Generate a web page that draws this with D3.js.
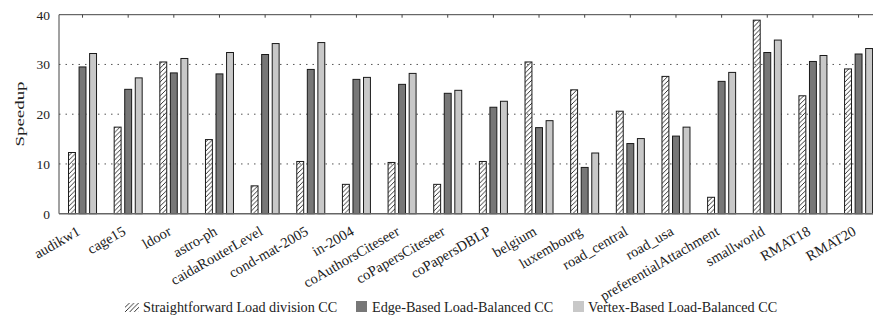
<!DOCTYPE html>
<html>
<head>
<meta charset="utf-8">
<script src="https://cdn.jsdelivr.net/npm/d3@7"></script>
<style>
  html, body { margin: 0; padding: 0; background: #fff; }
  svg { display: block; }
  svg text { font-family: "Liberation Serif", "Times New Roman", serif; fill: #222; }
</style>
</head>
<body>
<script>
// Speedup of three connected-components strategies over a set of graphs
const categories = [
  "audikw1", "cage15", "ldoor", "astro-ph", "caidaRouterLevel", "cond-mat-2005",
  "in-2004", "coAuthorsCiteseer", "coPapersCiteseer", "coPapersDBLP", "belgium",
  "luxembourg", "road_central", "road_usa", "preferentialAttachment", "smallworld",
  "RMAT18", "RMAT20"
];
const straightforward = [12.3, 17.4, 30.5, 14.9, 5.6, 10.5, 5.9, 10.3, 5.9, 10.5, 30.5, 24.9, 20.6, 27.6, 3.3, 38.9, 23.7, 29.1];
const edgeBased       = [29.5, 25.0, 28.3, 28.1, 32.0, 29.0, 27.0, 26.0, 24.2, 21.4, 17.3, 9.3, 14.1, 15.6, 26.6, 32.4, 30.6, 32.1];
const vertexBased     = [32.2, 27.3, 31.2, 32.4, 34.2, 34.4, 27.4, 28.2, 24.8, 22.6, 18.7, 12.2, 15.1, 17.4, 28.4, 34.9, 31.8, 33.2];
const seriesNames = [
  "Straightforward Load division CC",
  "Edge-Based Load-Balanced CC",
  "Vertex-Based Load-Balanced CC"
];
const yTicks = [0, 10, 20, 30, 40];

const W = 873, H = 322;
const plot = { left: 59, top: 14.7, bottom: 213.7, right: 881.4 };
const FONT = '"Liberation Serif", "Times New Roman", serif';

const svg = d3.select("body").append("svg").attr("width", W).attr("height", H);

// diagonal hatch for the first series
const defs = svg.append("defs");
const hatch = defs.append("pattern")
  .attr("id", "hatch").attr("patternUnits", "userSpaceOnUse")
  .attr("width", 4.6).attr("height", 4.6);
hatch.append("path")
  .attr("d", "M-1.15,1.15 L1.15,-1.15 M0,4.6 L4.6,0 M3.45,5.75 L5.75,3.45")
  .attr("stroke", "#111").attr("stroke-width", 0.85).attr("fill", "none");

const series = [
  { name: seriesNames[0], values: straightforward, fill: "url(#hatch)" },
  { name: seriesNames[1], values: edgeBased, fill: "#777777" },
  { name: seriesNames[2], values: vertexBased, fill: "#c8c8c8" }
];

const x = d3.scaleBand().domain(categories).range([plot.left + 0.7, plot.right]).padding(0);
const sub = d3.scaleBand().domain(d3.range(series.length)).range([0, 29]).paddingInner(0.25);
const y = d3.scaleLinear().domain([0, 40]).range([plot.bottom, plot.top]);

// dotted grid
svg.append("g")
  .selectAll("line").data(yTicks.filter(t => t > 0 && t < 40)).join("line")
  .attr("x1", plot.left).attr("x2", W)
  .attr("y1", d => y(d)).attr("y2", d => y(d))
  .attr("stroke", "#555").attr("stroke-width", 1).attr("stroke-dasharray", "1.5,5");

// bars
const groups = svg.append("g").selectAll("g").data(categories).join("g")
  .attr("transform", d => `translate(${x(d) + x.bandwidth() / 2 - 14.5},0)`);
series.forEach((s, si) => {
  groups.append("rect")
    .attr("x", sub(si) + 0.5)
    .attr("width", sub.bandwidth() - 1)
    .attr("y", (d, i) => y(s.values[i]))
    .attr("height", (d, i) => plot.bottom - y(s.values[i]))
    .attr("fill", s.fill)
    .attr("stroke", "#1a1a1a").attr("stroke-width", 1);
});

// frame: left, top, baseline
const frame = svg.append("g").attr("stroke", "#444").attr("fill", "none");
frame.append("line").attr("x1", plot.left).attr("x2", plot.left).attr("y1", plot.top).attr("y2", plot.bottom);
frame.append("line").attr("x1", plot.left).attr("x2", W).attr("y1", plot.top).attr("y2", plot.top);
frame.append("line").attr("x1", plot.left).attr("x2", W).attr("y1", plot.bottom).attr("y2", plot.bottom)
  .attr("stroke", "#666").attr("stroke-width", 1.5);

// top ticks at group centres
const topAxis = d3.axisTop(x).tickSize(-3).tickFormat("");
svg.append("g").attr("transform", `translate(0,${plot.top})`).call(topAxis)
  .call(g => g.select(".domain").remove())
  .call(g => g.selectAll("line").attr("stroke", "#444"));

// y axis labels
const yAxis = d3.axisLeft(y).tickValues(yTicks).tickSize(0).tickPadding(9);
svg.append("g").attr("transform", `translate(${plot.left},0)`).call(yAxis)
  .attr("font-family", FONT)
  .call(g => g.select(".domain").remove())
  .call(g => g.selectAll("text")
    .style("font-family", FONT)
    .attr("font-size", 13.5).attr("fill", "#333"));

// rotated category labels
svg.append("g").selectAll("text").data(categories).join("text")
  .attr("transform", d => `translate(${x(d) + x.bandwidth() / 2 - 1.5},234) rotate(-30)`)
  .attr("text-anchor", "end")
  .style("font-family", FONT)
  .attr("font-size", 14.5)
  .text(d => d);

// y title
svg.append("text")
  .attr("transform", `translate(24,114) rotate(-90) scale(1.4,1)`)
  .attr("text-anchor", "middle")
  .style("font-family", FONT)
  .attr("font-size", 13.5)
  .text("Speedup");

// legend
const legendItems = [
  { x: 125, tx: 143, w: 14, h: 9, fill: "url(#hatch)" },
  { x: 356, tx: 372, w: 11, h: 11, fill: "#777777" },
  { x: 573, tx: 588, w: 11, h: 11, fill: "#c8c8c8" }
];
const legend = svg.append("g");
legendItems.forEach((it, i) => {
  legend.append("rect")
    .attr("x", it.x).attr("y", 312 - it.h)
    .attr("width", it.w).attr("height", it.h)
    .attr("fill", it.fill);
  legend.append("text")
    .attr("x", it.tx).attr("y", 312)
    .style("font-family", FONT)
    .attr("font-size", 14.2)
    .text(seriesNames[i]);
});
</script>
</body>
</html>
